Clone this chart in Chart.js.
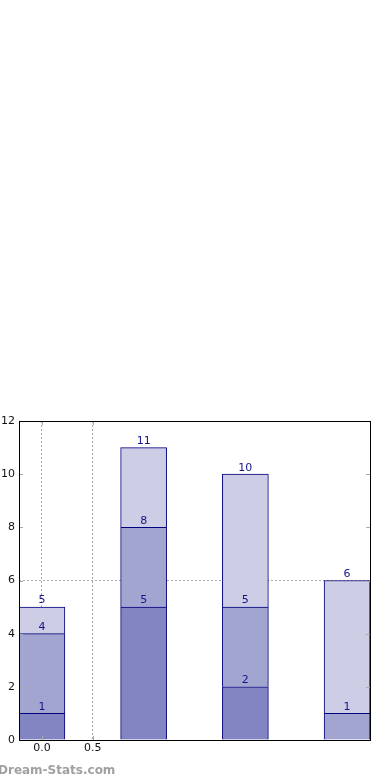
<!DOCTYPE html>
<html>
<head>
<meta charset="utf-8">
<script src="https://cdn.jsdelivr.net/npm/chart.js@4"></script>
<style>
  html, body { margin: 0; padding: 0; background: #fff; }
  #wrap { position: relative; width: 390px; height: 780px; }
  #watermark {
    position: absolute; left: -2px; top: 763px;
    font-family: "DejaVu Sans", sans-serif; font-size: 12px; font-weight: bold;
    color: #a0a0a0;
  }
</style>
</head>
<body>
<div id="wrap">
  <canvas id="chartOne" width="390" height="780"></canvas>
  <div id="watermark">Dream-Stats.com</div>
</div>
<script>
// bar positions and stacked layers (bottom to top)
const barX = [0, 1, 2, 3];
const layerLow = [1, 5, 2, 0];
const layerMid = [3, 3, 3, 1];
const layerTop = [1, 3, 5, 5];
const xTicks = [0, 0.5];
const yTicks = [0, 2, 4, 6, 8, 10, 12];

const layers = [layerLow, layerMid, layerTop];
const colors = ['#8384c2', '#a3a5d1', '#cdcde5'];

function toPoints(values) {
    // zero layers are left out, so no empty box gets drawn
    return barX.map((x, i) => ({ x: x, y: values[i] })).filter(p => p.y > 0);
}

function cumulative(layerIndex, barIndex) {
    let sum = 0;
    for (let k = 0; k <= layerIndex; k++) sum += layers[k][barIndex];
    return sum;
}

// cumulative value on top of each segment
const barLabels = {
    id: 'barLabels',
    afterDatasetsDraw(chart) {
        const ctx = chart.ctx;
        ctx.save();
        ctx.font = '11px "DejaVu Sans"';
        ctx.fillStyle = '#14148a';
        ctx.textAlign = 'center';
        ctx.textBaseline = 'bottom';
        chart.data.datasets.forEach((ds, di) => {
            const meta = chart.getDatasetMeta(di);
            meta.data.forEach((el, j) => {
                const bi = barX.indexOf(ds.data[j].x);
                ctx.fillText(String(cumulative(di, bi)), el.x, el.y - 1);
            });
        });
        ctx.restore();
    }
};

// frame and inward tick marks like the original
const frame = {
    id: 'frame',
    afterDraw(chart) {
        const ctx = chart.ctx;
        const a = chart.chartArea;
        const y = chart.scales.y;
        const x = chart.scales.x;
        ctx.save();
        ctx.strokeStyle = '#aaaaaa';
        ctx.lineWidth = 1;
        yTicks.forEach(v => {
            const py = Math.round(y.getPixelForValue(v)) + 0.5;
            ctx.beginPath();
            ctx.moveTo(a.left, py); ctx.lineTo(a.left + 4, py);
            ctx.moveTo(a.right, py); ctx.lineTo(a.right - 4, py);
            ctx.stroke();
        });
        xTicks.forEach(v => {
            const px = Math.round(x.getPixelForValue(v)) + 0.5;
            ctx.beginPath();
            ctx.moveTo(px, a.bottom); ctx.lineTo(px, a.bottom - 4);
            ctx.moveTo(px, a.top); ctx.lineTo(px, a.top + 4);
            ctx.stroke();
        });
        ctx.strokeStyle = '#000';
        ctx.strokeRect(Math.round(a.left) + 0.5, Math.round(a.top) + 0.5,
            Math.round(a.right - a.left), Math.round(a.bottom - a.top));
        ctx.restore();
    }
};

const ctxOne = document.getElementById('chartOne').getContext('2d');
const chartOne = new Chart(ctxOne, {
    type: 'bar',
    data: {
        datasets: layers.map((vals, i) => ({
            label: 'layer ' + (i + 1),
            data: toPoints(vals),
            backgroundColor: colors[i],
            borderColor: '#00007e',
            borderWidth: 1,
            borderSkipped: 'start',
            barThickness: 46
        }))
    },
    options: {
        responsive: false,
        animation: false,
        layout: { padding: { top: 421, left: 0, right: 20, bottom: 20 } },
        plugins: {
            legend: { display: false },
            tooltip: { enabled: false }
        },
        scales: {
            x: {
                type: 'linear',
                stacked: true,
                offset: false,
                min: -0.225,
                max: 3.225,
                afterBuildTicks: s => { s.ticks = xTicks.map(v => ({ value: v })); },
                afterFit: s => { s.height = 20; },
                ticks: {
                    font: { family: 'DejaVu Sans', size: 11 },
                    color: '#111',
                    padding: 2,
                    callback: v => v.toFixed(1)
                },
                grid: {
                    offset: false,
                    color: '#a6a6a6',
                    lineWidth: 1,
                    drawTicks: false
                },
                border: { display: false, dash: [2, 2] }
            },
            y: {
                stacked: true,
                min: 0,
                max: 12,
                afterBuildTicks: s => { s.ticks = yTicks.map(v => ({ value: v })); },
                afterFit: s => { s.width = 19; },
                ticks: {
                    font: { family: 'DejaVu Sans', size: 11 },
                    color: '#111',
                    padding: 4
                },
                grid: {
                    color: c => (c.tick && c.tick.value === 6) ? '#a6a6a6' : 'rgba(0,0,0,0)',
                    drawTicks: false
                },
                border: { display: false, dash: [2, 2] }
            }
        }
    },
    plugins: [barLabels, frame]
});
</script>
</body>
</html>
